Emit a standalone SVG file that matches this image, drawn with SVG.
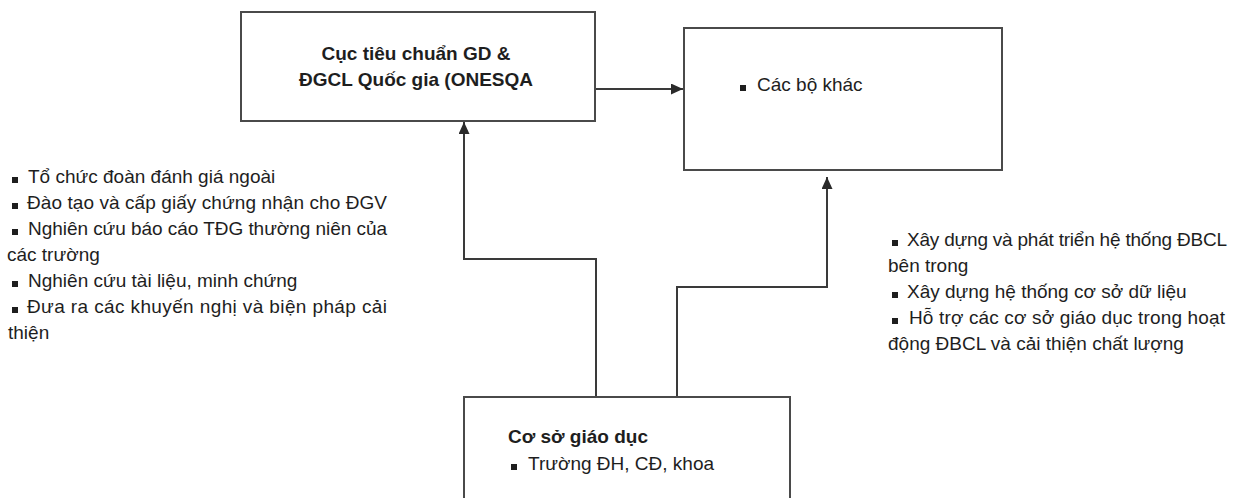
<svg xmlns="http://www.w3.org/2000/svg" width="1237" height="498" viewBox="0 0 1237 498">
<defs>
<style>
.box{fill:#fff;stroke:#4a4a4a;stroke-width:2}
.conn{fill:none;stroke:#3a3a3a;stroke-width:2}
.t{font-family:"Liberation Sans",Arial,sans-serif;font-size:19px;fill:#1e1e1e}
.b{font-weight:bold}
.sq{fill:#1e1e1e}
</style>
<marker id="ah" markerUnits="userSpaceOnUse" markerWidth="12" markerHeight="11" refX="12" refY="5.5" orient="auto">
<path d="M0,0 L12,5.5 L0,11 z" fill="#2a2a2a"/>
</marker>
</defs>
<rect width="1237" height="498" fill="#fff"/>
<g id="connectors">
<path class="conn" d="M595,89 L683,89" marker-end="url(#ah)"/>
<path class="conn" d="M596,397 L596,259 L464,259 L464,122" marker-end="url(#ah)"/>
<path class="conn" d="M677,397 L677,287 L827,287 L827,177" marker-end="url(#ah)"/>
</g>
<g id="onesqa">
<rect class="box" x="241" y="12" width="354" height="109"/>
<text class="t b" x="416" y="60" text-anchor="middle">Cục tiêu chuẩn GD &amp;</text>
<text class="t b" x="416" y="86" text-anchor="middle">ĐGCL Quốc gia (ONESQA</text>
</g>
<g id="cac-bo-khac">
<rect class="box" x="684" y="28" width="318" height="142"/>
<rect class="sq" x="740" y="85" width="6" height="6"/>
<text class="t" x="757" y="91">Các bộ khác</text>
</g>
<g id="co-so-giao-duc">
<rect class="box" x="464" y="397" width="326" height="115"/>
<text class="t b" x="508" y="443">Cơ sở giáo dục</text>
<rect class="sq" x="511" y="464" width="6" height="6"/>
<text class="t" x="528" y="470">Trường ĐH, CĐ, khoa</text>
</g>
<g id="left-notes">
<rect class="sq" x="12" y="177" width="6" height="6"/>
<text class="t" x="28" y="183">Tổ chức đoàn đánh giá ngoài</text>
<rect class="sq" x="12" y="203" width="6" height="6"/>
<text class="t" x="27" y="209" textLength="360" lengthAdjust="spacing">Đào tạo và cấp giấy chứng nhận cho ĐGV</text>
<rect class="sq" x="12" y="229" width="6" height="6"/>
<text class="t" x="28" y="235" textLength="359" lengthAdjust="spacing">Nghiên cứu báo cáo TĐG thường niên của</text>
<text class="t" x="7" y="261">các trường</text>
<rect class="sq" x="12" y="281" width="6" height="6"/>
<text class="t" x="28" y="287">Nghiên cứu tài liệu, minh chứng</text>
<rect class="sq" x="12" y="307" width="6" height="6"/>
<text class="t" x="27" y="313" textLength="360" lengthAdjust="spacing">Đưa ra các khuyến nghị và biện pháp cải</text>
<text class="t" x="8" y="339">thiện</text>
</g>
<g id="right-notes">
<rect class="sq" x="892" y="240" width="6" height="6"/>
<text class="t" x="907" y="246" textLength="320" lengthAdjust="spacing">Xây dựng và phát triển hệ thống ĐBCL</text>
<text class="t" x="888" y="272">bên trong</text>
<rect class="sq" x="892" y="292" width="6" height="6"/>
<text class="t" x="907" y="298">Xây dựng hệ thống cơ sở dữ liệu</text>
<rect class="sq" x="892" y="318" width="6" height="6"/>
<text class="t" x="909" y="324" textLength="316" lengthAdjust="spacing">Hỗ trợ các cơ sở giáo dục trong hoạt</text>
<text class="t" x="888" y="350">động ĐBCL và cải thiện chất lượng</text>
</g>
</svg>
